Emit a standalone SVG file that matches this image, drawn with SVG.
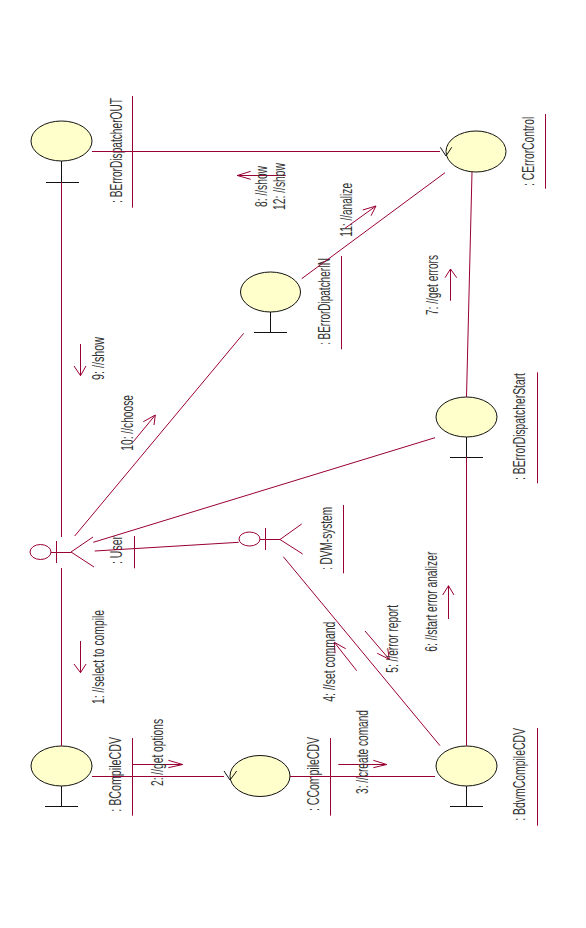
<svg xmlns="http://www.w3.org/2000/svg" width="586" height="928" viewBox="0 0 586 928">
<style>
text{font-family:"Liberation Sans",Arial,sans-serif;font-size:16px;fill:#333}
.c,.a,.u{fill:none;stroke:#990033;stroke-width:1}
.a{stroke-linejoin:miter}
.o{fill:#ffffcb;stroke:#111;stroke-width:1}
.k{fill:none;stroke:#111;stroke-width:1}
.h{fill:#fff;stroke:#990033;stroke-width:1}
</style>
<rect width="586" height="928" fill="#fff"/>
<g id="BErrorDispatcherOUT">
<ellipse class="o" cx="61.5" cy="141" rx="30.5" ry="20"/><path class="k" d="M61.5 161V182M46 182.5H79"/>
<text transform="translate(121.5,203) rotate(-90)" textLength="105" lengthAdjust="spacingAndGlyphs">: BErrorDispatcherOUT</text>
<path class="u" d="M132.5 96V207.7"/>
</g>
<g id="BErrorDipatcherIN">
<ellipse class="o" cx="270.5" cy="292" rx="30" ry="20"/><path class="k" d="M270.5 312V332.5M254 332.5H287"/>
<text transform="translate(330,345) rotate(-90)" textLength="87" lengthAdjust="spacingAndGlyphs">: BErrorDipatcherIN</text>
<path class="u" d="M341.5 256V349.3"/>
</g>
<g id="CErrorControl">
<ellipse class="o" cx="476" cy="151.5" rx="30" ry="20.5"/>
<text transform="translate(534.3,186) rotate(-90)" textLength="69.3" lengthAdjust="spacingAndGlyphs">: CErrorControl</text>
<path class="u" d="M545.5 114V188.7"/>
</g>
<g id="BErrorDispatcherStart">
<ellipse class="o" cx="466.5" cy="417" rx="30.5" ry="20"/><path class="k" d="M466.5 437V457.5M450 457.5H483"/>
<text transform="translate(525,480) rotate(-90)" textLength="107" lengthAdjust="spacingAndGlyphs">: BErrorDispatcherStart</text>
<path class="u" d="M537.5 372.3V483.3"/>
</g>
<g id="BCompileCDV">
<ellipse class="o" cx="61.5" cy="766" rx="30.5" ry="20"/><path class="k" d="M61.5 786V806.5M45 806.5H78"/>
<text transform="translate(121,811.7) rotate(-90)" textLength="74.7" lengthAdjust="spacingAndGlyphs">: BCompileCDV</text>
<path class="u" d="M132.5 738V815.7"/>
</g>
<g id="CCompileCDV">
<ellipse class="o" cx="260" cy="776" rx="30" ry="20.5"/>
<text transform="translate(319,811) rotate(-90)" textLength="74" lengthAdjust="spacingAndGlyphs">: CCompileCDV</text>
<path class="u" d="M330.5 738V815.7"/>
</g>
<g id="BdvmCompileCDV">
<ellipse class="o" cx="466.5" cy="766" rx="30.5" ry="20"/><path class="k" d="M466.5 786V806.5M450 806.5H483"/>
<text transform="translate(525,820.7) rotate(-90)" textLength="92.7" lengthAdjust="spacingAndGlyphs">: BdvmCompileCDV</text>
<path class="u" d="M537.5 728V825.7"/>
</g>
<g id="User">
<ellipse class="h" cx="40.5" cy="552" rx="10.5" ry="7.5"/><path class="c" d="M51 552.5H71M56.5 541V563M93 537L71 552L94 567"/>
<text transform="translate(121.7,564) rotate(-90)" textLength="28" lengthAdjust="spacingAndGlyphs">: User</text>
<path class="u" d="M134.5 536V568.3"/>
</g>
<g id="DVM-system">
<ellipse class="h" cx="249.5" cy="539" rx="10.5" ry="7"/><path class="c" d="M260 539.5H280M265.5 528V550M301.7 524L280 539.5L302.7 554"/>
<text transform="translate(331.7,570) rotate(-90)" textLength="63" lengthAdjust="spacingAndGlyphs">: DVM-system</text>
<path class="u" d="M343.5 505V573.3"/>
</g>
<g id="connectors">
<path class="c" d="M61.5 182V537M61.5 568V746"/>
<path class="c" d="M92 151.5H440"/>
<path class="c" d="M92 776.5H224"/>
<path class="c" d="M290 776.5H435"/>
<path class="c" d="M472 172L466.5 397"/>
<path class="c" d="M466.5 457V746"/>
<path class="c" d="M301.7 278.7L445 172.7"/>
<path class="c" d="M243.7 333.3L74.7 536"/>
<path class="c" d="M93.3 542.3L435 437.7"/>
<path class="c" d="M94.7 551L238.7 542.3"/>
<path class="c" d="M283.3 556.7L440 745.7"/>
<path class="k" d="M440.3 147.3L446 156L451.7 147.3"/>
<path class="k" d="M224 771L230 780L236.7 771"/>
<g id="msg-8-12"><path class="a" d="M285.7 175.5H237.3M250.7 171.3L237.3 175.5L250.7 179.3"/><text transform="translate(266.7,207) rotate(-90)" textLength="41" lengthAdjust="spacingAndGlyphs">8: //show</text><text transform="translate(285,210) rotate(-90)" textLength="47" lengthAdjust="spacingAndGlyphs">12: //show</text></g>
<g id="msg-9"><path class="a" d="M80.5 344V375.7M74 366L80.5 375.7L86 366"/><text transform="translate(104.3,380) rotate(-90)" textLength="43" lengthAdjust="spacingAndGlyphs">9: //show</text></g>
<g id="msg-10"><path class="a" d="M133.3 441.7L155.3 415M143.3 421.7L155.3 415L154 425"/><text transform="translate(132.7,450.7) rotate(-90)" textLength="55.7" lengthAdjust="spacingAndGlyphs">10: //choose</text></g>
<g id="msg-11"><path class="a" d="M345 228.3L376 206M362.7 210L376 206L371 215.7"/><text transform="translate(351.7,236.7) rotate(-90)" textLength="53.7" lengthAdjust="spacingAndGlyphs">11: //analize</text></g>
<g id="msg-7"><path class="a" d="M450.5 300.7V269M445 277.7L450.5 269L456.7 277.7"/><text transform="translate(437.7,315) rotate(-90)" textLength="60" lengthAdjust="spacingAndGlyphs">7: //get errors</text></g>
<g id="msg-6"><path class="a" d="M448.5 619V585.7M442.7 595L448.5 585.7L454 595"/><text transform="translate(436.7,651.7) rotate(-90)" textLength="100" lengthAdjust="spacingAndGlyphs">6: //start error analizer</text></g>
<g id="msg-5"><path class="a" d="M365 631L389.3 659.3M377.3 653.3L389.3 659.3L387.7 648.3"/><text transform="translate(398.3,672.7) rotate(-90)" textLength="67.7" lengthAdjust="spacingAndGlyphs">5: //error report</text></g>
<g id="msg-4"><path class="a" d="M356.7 670.7L334.3 642.3M345.7 648.7L334.3 642.3L335 653.3"/><text transform="translate(335,701.7) rotate(-90)" textLength="80" lengthAdjust="spacingAndGlyphs">4: //set command</text></g>
<g id="msg-3"><path class="a" d="M338.3 764.5H386.7M373.3 760.3L386.7 764.5L373.3 767.7"/><text transform="translate(368.3,794) rotate(-90)" textLength="84" lengthAdjust="spacingAndGlyphs">3: //create comand</text></g>
<g id="msg-2"><path class="a" d="M132.7 764.5H182.7M168.3 760.3L182.7 764.5L168.3 767.7"/><text transform="translate(163.3,786) rotate(-90)" textLength="67" lengthAdjust="spacingAndGlyphs">2: //get options</text></g>
<g id="msg-1"><path class="a" d="M80.5 641V672.7M74 664L80.5 672.7L86 664"/><text transform="translate(104.3,704) rotate(-90)" textLength="94" lengthAdjust="spacingAndGlyphs">1: //select to compile</text></g>
</g>
</svg>
